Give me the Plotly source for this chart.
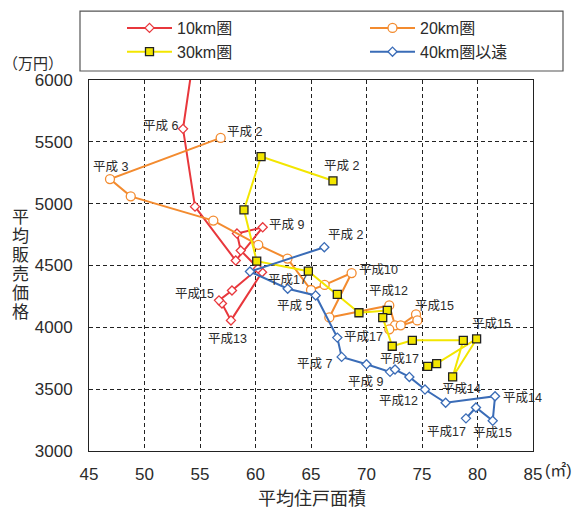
import plotly.graph_objects as go

# 平均住戸面積 (㎡) と 平均販売価格 (万円), 平成2〜17年
years_10 = [5, 6, 7, 8, 9, 10, 11, 12, 13, 14, 15, 16, 17]
area_10 = [54.6, 53.47, 54.55, 58.22, 60.65, 58.33, 58.67, 60.59, 57.79, 56.98, 56.71, 57.88, 60.23]
price_10 = [6300, 5605, 4976, 4540, 4809, 4758, 4621, 4446, 4056, 4193, 4218, 4298, 4476]

years_20 = list(range(2, 18))
area_20 = [56.86, 46.89, 48.76, 56.20, 60.25, 62.88, 65.00, 66.23, 68.66, 66.65, 72.05, 72.57, 73.08, 74.46, 74.58, 72.05]
price_20 = [5532, 5199, 5059, 4863, 4667, 4556, 4302, 4343, 4439, 4080, 4177, 4016, 4016, 4105, 4056, 3984]

years_30 = list(range(2, 18))
area_30 = [66.98, 60.50, 58.96, 60.11, 64.76, 67.37, 69.32, 71.87, 71.46, 72.32, 74.13, 78.72, 77.76, 79.92, 76.32, 75.51]
price_30 = [5185, 5381, 4949, 4535, 4454, 4266, 4118, 4137, 4078, 3847, 3895, 3895, 3599, 3906, 3707, 3685]

years_40 = list(range(2, 18))
area_40 = [66.20, 59.50, 62.90, 65.42, 67.37, 67.76, 70.00, 72.12, 72.57, 73.86, 75.27, 77.13, 81.58, 81.37, 79.86, 78.96]
price_40 = [4648, 4451, 4312, 4258, 3917, 3761, 3701, 3640, 3659, 3599, 3497, 3390, 3443, 3244, 3352, 3264]

series_names = ["10km圏", "20km圏", "30km圏", "40km圏以遠"]
x_ticks = [45, 50, 55, 60, 65, 70, 75, 80, 85]
y_ticks = [3000, 3500, 4000, 4500, 5000, 5500, 6000]

FONT = "Liberation Sans, Arial, Noto Sans CJK JP, sans-serif"
TXT = "#2b2b2b"

series = {
    "10km": dict(years=years_10, x=area_10, y=price_10, name=series_names[0],
                 color="#E8373C", symbol="diamond", size=7, fill="white", edge="#E8373C", legend="legend"),
    "20km": dict(years=years_20, x=area_20, y=price_20, name=series_names[1],
                 color="#F38B2F", symbol="circle", size=9, fill="white", edge="#F38B2F", legend="legend2"),
    "30km": dict(years=years_30, x=area_30, y=price_30, name=series_names[2],
                 color="#F3E600", symbol="square", size=8, fill="#F3E600", edge="#222222", legend="legend"),
    "40km": dict(years=years_40, x=area_40, y=price_40, name=series_names[3],
                 color="#3A6CB7", symbol="diamond", size=7, fill="white", edge="#3A6CB7", legend="legend2"),
}

fig = go.Figure()
for key in ["10km", "20km", "30km", "40km"]:
    s = series[key]
    fig.add_trace(go.Scatter(
        x=s["x"], y=s["y"], mode="lines+markers", name=s["name"], legend=s["legend"],
        line=dict(color=s["color"], width=2),
        marker=dict(symbol=s["symbol"], size=s["size"], color=s["fill"],
                    line=dict(color=s["edge"], width=1.3)),
        hoverinfo="skip",
    ))

# year labels: (series, year, x offset px, y offset px downward)
year_labels = [
    ("10km", 6, -23, -3), ("10km", 9, 24, -2), ("10km", 17, 29, 12),
    ("10km", 15, -24, -6), ("10km", 13, -3, 19),
    ("20km", 2, 24, -6), ("20km", 3, 1, -12), ("20km", 10, 27, -3),
    ("20km", 12, -1, -14), ("20km", 15, 18, -8), ("20km", 17, -26, 8),
    ("30km", 2, 9, -15), ("30km", 15, 15, -15), ("30km", 14, 9, 12), ("30km", 17, -28, -7),
    ("40km", 2, 21, -12), ("40km", 5, -21, 11), ("40km", 7, -27, 7), ("40km", 9, -25, 10),
    ("40km", 12, -27, 11), ("40km", 14, 27, 2), ("40km", 17, -19, 14), ("40km", 15, 0, 12),
]
for key, yr, dx, dy in year_labels:
    s = series[key]
    i = s["years"].index(yr)
    label = f"平成 {yr}" if yr < 10 else f"平成{yr}"
    fig.add_annotation(x=s["x"][i], y=s["y"][i], text=label, showarrow=False,
                       xshift=dx, yshift=-dy, xanchor="center", yanchor="middle",
                       font=dict(size=12.5, color=TXT, family=FONT))

W, H = 573, 510
L, R, T, B = 89, 40, 79, 59
pw, ph = W - L - R, H - T - B


def px(xp):
    return (xp - L) / pw


def py(yp):
    return (H - B - yp) / ph


# vertical axis title, one character per line
for k, ch in enumerate("平均販売価格"):
    fig.add_annotation(xref="paper", yref="paper", x=px(20), y=py(217 + 19 * k), text=ch,
                       showarrow=False, xanchor="center", yanchor="middle",
                       font=dict(size=17, color=TXT, family=FONT))
fig.add_annotation(xref="paper", yref="paper", x=px(33), y=py(62), text="（万円）",
                   showarrow=False, xanchor="center", yanchor="middle",
                   font=dict(size=15, color=TXT, family=FONT))
fig.add_annotation(xref="paper", yref="paper", x=px(312), y=py(499), text="平均住戸面積",
                   showarrow=False, xanchor="center", yanchor="middle",
                   font=dict(size=18, color=TXT, family=FONT))
fig.add_annotation(xref="paper", yref="paper", x=px(543), y=py(471), text="(㎡)",
                   showarrow=False, xanchor="left", yanchor="middle",
                   font=dict(size=16, color=TXT, family=FONT))

# legend frame
fig.add_shape(type="rect", xref="paper", yref="paper",
              x0=px(80), x1=px(563), y0=py(70), y1=py(10),
              line=dict(color="#555555", width=1.2), fillcolor="white", layer="below")

legend_common = dict(xanchor="left", yanchor="top", bgcolor="rgba(0,0,0,0)", borderwidth=0,
                     font=dict(size=16, color=TXT, family=FONT), itemwidth=45,
                     tracegroupgap=9, orientation="v")

fig.update_layout(
    width=W, height=H,
    margin=dict(l=L, r=R, t=T, b=B),
    paper_bgcolor="white", plot_bgcolor="white",
    font=dict(family=FONT, color=TXT),
    legend=dict(x=px(122), y=py(11), **legend_common),
    legend2=dict(x=px(365), y=py(11), **legend_common),
    xaxis=dict(range=[45, 85], tickvals=x_ticks, showgrid=True, gridcolor="#222222",
               griddash="4px,3px", gridwidth=1, showline=True, linecolor="#222222",
               linewidth=1, mirror=True, ticks="", zeroline=False,
               tickfont=dict(size=17, color=TXT, family=FONT), ticklabelstandoff=8),
    yaxis=dict(range=[3000, 6000], tickvals=y_ticks, showgrid=True, gridcolor="#222222",
               griddash="4px,3px", gridwidth=1, showline=True, linecolor="#222222",
               linewidth=1, mirror=True, ticks="", zeroline=False,
               tickfont=dict(size=17, color=TXT, family=FONT), ticklabelstandoff=12),
    showlegend=True,
)

fig.write_html("out.html")
